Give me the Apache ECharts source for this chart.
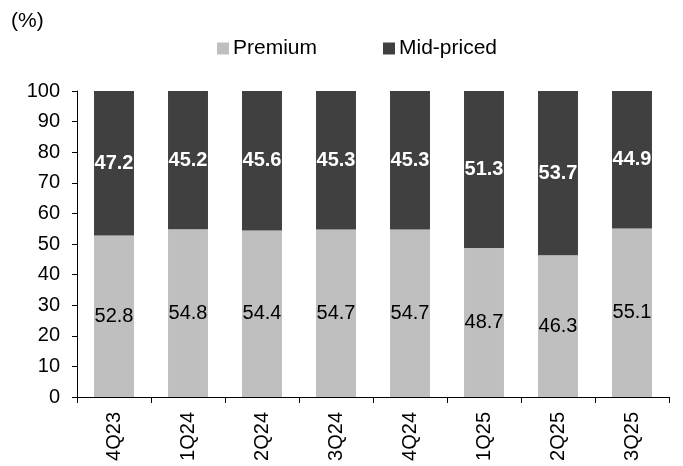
<!DOCTYPE html>
<html>
<head>
<meta charset="utf-8">
<script src="https://cdn.jsdelivr.net/npm/echarts@6/dist/echarts.min.js"></script>
<style>
  html, body { margin: 0; padding: 0; background: #fff; }
  #chart { width: 683px; height: 466px; }
</style>
</head>
<body>
<div id="chart"></div>
<script>
const categories = ['4Q23', '1Q24', '2Q24', '3Q24', '4Q24', '1Q25', '2Q25', '3Q25'];
const premium = [52.8, 54.8, 54.4, 54.7, 54.7, 48.7, 46.3, 55.1];
const midPriced = [47.2, 45.2, 45.6, 45.3, 45.3, 51.3, 53.7, 44.9];
const yTicks = { min: 0, max: 100, interval: 10 };

const font = 'Liberation Sans, Arial, sans-serif';
const chart = echarts.init(document.getElementById('chart'));

chart.setOption({
  animation: false,
  textStyle: { fontFamily: font },
  graphic: [
    {
      type: 'text',
      left: 11,
      top: 11,
      style: { text: '(%)', font: '21px ' + font, fill: '#000' },
    },
  ],
  legend: {
    left: 212,
    top: 33,
    itemWidth: 12,
    itemHeight: 12,
    itemGap: 66,
    icon: 'rect',
    textStyle: { fontSize: 21, color: '#000', fontFamily: font, padding: [0, 0, 0, -1] },
    data: ['Premium', 'Mid-priced'],
  },
  grid: { left: 77, right: 14, top: 91, bottom: 69 },
  xAxis: {
    type: 'category',
    data: categories,
    axisLine: { lineStyle: { color: '#000', width: 1 } },
    axisTick: { show: true, length: 6, lineStyle: { color: '#000' } },
    axisLabel: { rotate: 90, fontSize: 20, color: '#000', margin: 15, fontFamily: font },
  },
  yAxis: {
    type: 'value',
    min: yTicks.min,
    max: yTicks.max,
    interval: yTicks.interval,
    axisLine: { show: true, lineStyle: { color: '#000', width: 1 } },
    axisTick: { show: true, length: 5, lineStyle: { color: '#000' } },
    splitLine: { show: false },
    axisLabel: { fontSize: 20, color: '#000', margin: 17, fontFamily: font },
  },
  series: [
    {
      name: 'Premium',
      type: 'bar',
      stack: 'total',
      barWidth: '54%',
      data: premium,
      itemStyle: { color: '#bfbfbf' },
      label: {
        show: true,
        position: 'inside',
        fontSize: 20,
        color: '#000',
        fontFamily: font,
        formatter: (p) => p.value.toFixed(1),
      },
    },
    {
      name: 'Mid-priced',
      type: 'bar',
      stack: 'total',
      barWidth: '54%',
      data: midPriced,
      itemStyle: { color: '#404040' },
      label: {
        show: true,
        position: 'inside',
        fontSize: 20,
        fontWeight: 'bold',
        color: '#fff',
        fontFamily: font,
        formatter: (p) => p.value.toFixed(1),
      },
    },
  ],
});
</script>
</body>
</html>
